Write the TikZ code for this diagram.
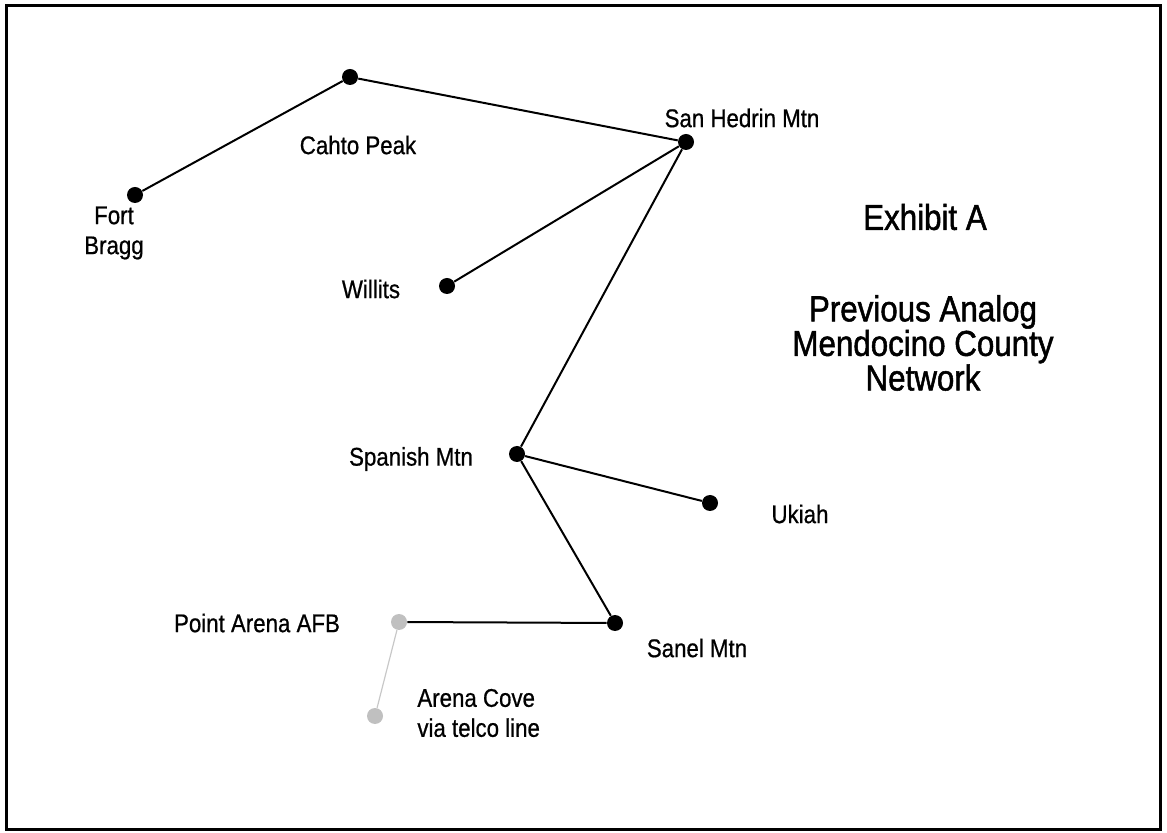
\documentclass[tikz,border=0pt]{standalone}
\usepackage{fontspec}
\setmainfont{Liberation Sans}[FakeStretch=0.87, FakeBold=0.7]
\newfontfamily\headfont{Liberation Sans}[FakeStretch=0.87, FakeBold=1.4]
\usepackage{xcolor}
\usepackage{tikz}
\usetikzlibrary{positioning, calc}
\definecolor{sitegray}{RGB}{192, 192, 192}
\definecolor{telcogray}{RGB}{200, 200, 200}

\begin{document}
\begin{tikzpicture}[x=0.5pt, y=-0.5pt,
  site/.style={circle, fill=black, inner sep=0pt, minimum size=8pt},
  oldsite/.style={circle, fill=sitegray, inner sep=0pt, minimum size=8pt},
  link/.style={line width=1pt},
  telco/.style={telcogray, line width=0.6pt},
  lbl/.style={font=\fontsize{12.8}{15}\selectfont, align=center, inner sep=0pt},
  title/.style={font=\headfont\fontsize{18}{17.3}\selectfont, align=center, inner sep=0pt}]
\useasboundingbox (0,0) rectangle (1167,833);
\draw[line width=1.5pt] (6,6) rectangle (1160,829);

% Sites
\node[site] (cahto) at (350,77) {};
\node[site] (hedrin) at (686,142) {};
\node[site] (bragg) at (135,195) {};
\node[site] (willits) at (447,286) {};
\node[site] (spanish) at (517,454) {};
\node[site] (ukiah) at (710,503) {};
\node[site] (sanel) at (615,623) {};
\node[oldsite] (afb) at (399,622) {};
\node[oldsite] (cove) at (375,716) {};

% Links
\draw[link] (bragg) -- (cahto);
\draw[link] (cahto) -- (hedrin);
\draw[link] (hedrin) -- (willits);
\draw[link] (hedrin) -- (spanish);
\draw[link] (spanish) -- (ukiah);
\draw[link] (spanish) -- (sanel);
\draw[link] (sanel) -- (afb);
\draw[telco] (afb) -- (cove);

% Labels
\node[lbl] (cahtotxt) at (358,145) {Cahto Peak};
\node[lbl] (hedrintxt) at (742,118) {San Hedrin Mtn};
\node[lbl] (braggtxt) at (114,233) {Fort\\Bragg};
\node[lbl] (willitstxt) at (371,289) {Willits};
\node[lbl] (spanishtxt) at (411,459) {Spanish Mtn};
\node[lbl] (ukiahtxt) at (800,514) {Ukiah};
\node[lbl] (saneltxt) at (697,648) {Sanel Mtn};
\node[lbl] (afbtxt) at (257,623) {Point Arena AFB};
\node[lbl, align=left, anchor=west] (covetxt) at (417,713) {Arena Cove\\via telco line};

% Title
\node[title] (exhibit) at (925,217) {Exhibit A};
\node[title] (network) at (923,343) {Previous Analog\\Mendocino County\\Network};
\end{tikzpicture}
\end{document}
